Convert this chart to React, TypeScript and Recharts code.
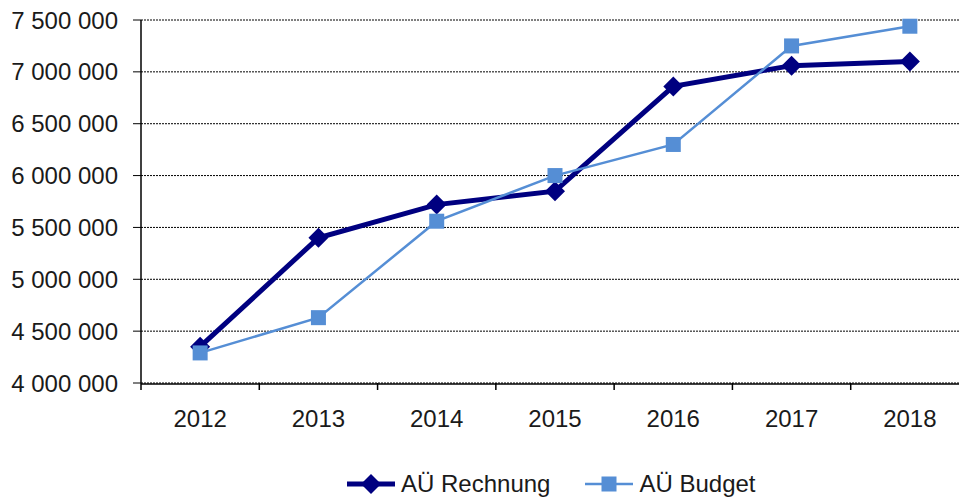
import React from "react";
import {
  LineChart,
  Line,
  XAxis,
  YAxis,
  CartesianGrid,
  Legend,
} from "recharts";

const years = ["2012", "2013", "2014", "2015", "2016", "2017", "2018"];
const rechnung = [4350000, 5400000, 5720000, 5850000, 6860000, 7060000, 7100000];
const budget = [4290000, 4630000, 5560000, 6000000, 6300000, 7250000, 7440000];
const yTicks = [4000000, 4500000, 5000000, 5500000, 6000000, 6500000, 7000000, 7500000];
const boundaryTicks = [0, 1, 2, 3, 4, 5, 6, 7];

const data = years.map((year, i) => ({
  year,
  rechnung: rechnung[i],
  budget: budget[i],
  slot: i + 0.5,
}));

const NAVY = "#000080";
const LIGHT = "#558ed5";
const FONT = "'Liberation Sans', Arial, sans-serif";

const fmt = (v: number) => String(v).replace(/\B(?=(\d{3})+(?!\d))/g, " ");

const Diamond = (props: any) => {
  const { cx, cy } = props;
  if (cx == null || cy == null) return null;
  const r = 10;
  return (
    <path
      key={`d-${cx}`}
      d={`M${cx},${cy - r}L${cx + r},${cy}L${cx},${cy + r}L${cx - r},${cy}Z`}
      fill={NAVY}
    />
  );
};

const Square = (props: any) => {
  const { cx, cy } = props;
  if (cx == null || cy == null) return null;
  const s = 7.5;
  return <rect key={`s-${cx}`} x={cx - s} y={cy - s} width={s * 2} height={s * 2} fill={LIGHT} />;
};

const LegendContent = () => (
  <div
    style={{
      height: 54,
      boxSizing: "border-box",
      paddingTop: 27,
      paddingLeft: 347,
      display: "flex",
      alignItems: "center",
      fontFamily: FONT,
      fontSize: 24,
      color: "#1a1a1a",
      whiteSpace: "nowrap",
    }}
  >
    <svg width={48} height={22}>
      <line x1={0} y1={11} x2={48} y2={11} stroke={NAVY} strokeWidth={5} />
      <path d="M24,1L34,11L24,21L14,11Z" fill={NAVY} />
    </svg>
    <span style={{ marginLeft: 6 }}>AÜ Rechnung</span>
    <svg width={48} height={22} style={{ marginLeft: 35 }}>
      <line x1={0} y1={11} x2={48} y2={11} stroke={LIGHT} strokeWidth={2.5} />
      <rect x={16.5} y={3.5} width={15} height={15} fill={LIGHT} />
    </svg>
    <span style={{ marginLeft: 6 }}>AÜ Budget</span>
  </div>
);

export default function App() {
  return (
    <div
      style={{
        position: "fixed",
        left: 0,
        top: 0,
        width: 959,
        height: 497,
        overflow: "hidden",
        background: "#fff",
      }}
    >
      <LineChart
        width={975}
        height={497}
        data={data}
        margin={{ top: 20, right: 6, bottom: 0, left: 0 }}
      >
        <CartesianGrid
          xAxisId="b1"
          vertical={false}
          stroke="#000"
          strokeDasharray="2 1"
        />
        <XAxis
          xAxisId="a0"
          dataKey="slot"
          type="number"
          domain={[0, 7]}
          ticks={boundaryTicks}
          allowDataOverflow
          interval={0}
          tickFormatter={() => ""}
          tickSize={7}
          tickLine={{ stroke: "#000", strokeWidth: 1.5 }}
          axisLine={false}
          height={1}
        />
        <XAxis
          xAxisId="b1"
          dataKey="year"
          scale="band"
          height={59}
          tickSize={0}
          tickMargin={26}
          tickLine={false}
          axisLine={{ stroke: "#000", strokeWidth: 1.5 }}
          tick={{ fontSize: 24, fill: "#1a1a1a", fontFamily: FONT }}
        />
        <YAxis
          width={141}
          domain={[4000000, 7500000]}
          ticks={yTicks}
          tickFormatter={fmt}
          tickSize={8}
          tickMargin={15}
          axisLine={{ stroke: "#000", strokeWidth: 1.5 }}
          tickLine={{ stroke: "#000" }}
          tick={{ fontSize: 24, fill: "#1a1a1a", fontFamily: FONT }}
          interval={0}
        />
        <Legend verticalAlign="bottom" content={<LegendContent />} />
        <Line
          xAxisId="b1"
          dataKey="rechnung"
          name="AÜ Rechnung"
          stroke={NAVY}
          strokeWidth={5}
          dot={Diamond}
          activeDot={false}
          isAnimationActive={false}
        />
        <Line
          xAxisId="b1"
          dataKey="budget"
          name="AÜ Budget"
          stroke={LIGHT}
          strokeWidth={2.5}
          dot={Square}
          activeDot={false}
          isAnimationActive={false}
        />
      </LineChart>
    </div>
  );
}
